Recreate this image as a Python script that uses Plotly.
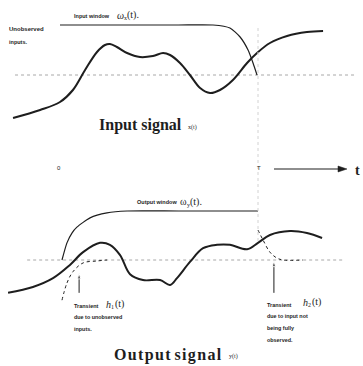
import plotly.graph_objects as go

# ---------------- data (time t in units of T, amplitude relative to the dotted baseline) -------------
input_t = [-0.231, -0.095, 0.005, 0.070, 0.131, 0.191, 0.231, 0.256, 0.291, 0.342, 0.407, 0.472,
           0.523, 0.558, 0.608, 0.658, 0.709, 0.759, 0.809, 0.874, 0.945, 0.995, 1.060, 1.146,
           1.246, 1.327]
input_x = [-0.86, -0.70, -0.54, -0.30, 0.10, 0.46, 0.60, 0.62, 0.56, 0.44, 0.36, 0.38,
           0.44, 0.40, 0.24, 0.00, -0.26, -0.36, -0.30, -0.10, 0.24, 0.44, 0.64, 0.78,
           0.86, 0.88]

win_x_t = [0.005, 0.30, 0.60, 0.774, 0.859, 0.910, 0.950, 0.975, 0.995]
win_x_v = [1.00, 1.00, 1.00, 1.00, 0.94, 0.76, 0.50, 0.24, 0.00]

output_t = [-0.256, -0.131, -0.030, 0.055, 0.121, 0.206, 0.256, 0.307, 0.357, 0.422, 0.508,
            0.558, 0.593, 0.658, 0.724, 0.794, 0.859, 0.945, 1.000, 1.060, 1.161, 1.246, 1.322]
output_y = [-0.67, -0.55, -0.37, -0.10, 0.16, 0.35, 0.31, 0.10, -0.29, -0.41, -0.41,
            -0.51, -0.37, -0.04, 0.24, 0.31, 0.31, 0.22, 0.35, 0.51, 0.59, 0.55, 0.45]

win_y_t = [0.015, 0.040, 0.065, 0.090, 0.156, 0.241, 0.342, 0.600, 1.000]
win_y_v = [0.00, 0.35, 0.55, 0.67, 0.86, 0.96, 1.00, 1.00, 1.00]

h1_t = [0.015, 0.040, 0.070, 0.121, 0.191, 0.241]
h1_v = [-0.82, -0.47, -0.24, -0.06, -0.02, 0.00]

h2_t = [1.000, 1.025, 1.060, 1.095, 1.126, 1.226]
h2_v = [0.61, 0.41, 0.16, 0.04, 0.00, 0.00]

baseline_in_t = [-0.221, 1.487]
baseline_out_t = [-0.160, 1.437]
arrow_h1 = (0.101, -0.67, -0.27)   # t, from, to
arrow_h2 = (1.080, -0.67, -0.02)

W, H = 363, 366
def px(x):
    return x / W
def py(y):
    return 1 - y / H

INK = "#1e1e1e"
GRID = "#a8a8a8"
SERIF = "Liberation Serif"
SANS = "Liberation Sans Narrow, Liberation Sans"

fig = go.Figure()

# input panel
fig.add_trace(go.Scatter(x=baseline_in_t, y=[0, 0], mode="lines", yaxis="y",
                         line=dict(color=GRID, width=1, dash="dot")))
fig.add_trace(go.Scatter(x=win_x_t, y=win_x_v, mode="lines", yaxis="y",
                         line=dict(color=INK, width=1.2, shape="spline", smoothing=0.6)))
fig.add_trace(go.Scatter(x=input_t, y=input_x, mode="lines", yaxis="y",
                         line=dict(color=INK, width=2, shape="spline", smoothing=1)))

# output panel
fig.add_trace(go.Scatter(x=baseline_out_t, y=[0, 0], mode="lines", yaxis="y2",
                         line=dict(color=GRID, width=1, dash="dot")))
fig.add_trace(go.Scatter(x=win_y_t, y=win_y_v, mode="lines", yaxis="y2",
                         line=dict(color=INK, width=1.2, shape="spline", smoothing=0.6)))
fig.add_trace(go.Scatter(x=output_t, y=output_y, mode="lines", yaxis="y2",
                         line=dict(color=INK, width=2, shape="spline", smoothing=1)))
fig.add_trace(go.Scatter(x=h1_t, y=h1_v, mode="lines", yaxis="y2",
                         line=dict(color=INK, width=1, dash="dot", shape="spline")))
fig.add_trace(go.Scatter(x=h2_t, y=h2_v, mode="lines", yaxis="y2",
                         line=dict(color=INK, width=1, dash="dot", shape="spline")))

# transient arrows
for (t, a0, a1) in (arrow_h1, arrow_h2):
    fig.add_trace(go.Scatter(x=[t, t], y=[a0, a1], mode="lines+markers", yaxis="y2",
                             line=dict(color=INK, width=1),
                             marker=dict(symbol="arrow", angleref="previous", size=[0, 6],
                                         color=INK)))

# vertical dotted line at T
fig.add_shape(type="line", xref="x", yref="paper", x0=1.0, x1=1.0, y0=py(28), y1=py(244),
              line=dict(color="#d2d2d2", width=1, dash="dot"))

# time axis arrow
fig.add_shape(type="line", xref="paper", yref="paper", x0=px(274), x1=px(340),
              y0=py(169), y1=py(169), line=dict(color=INK, width=1.2))
fig.add_shape(type="path", xref="paper", yref="paper",
              path=f"M {px(338)} {py(166)} L {px(347)} {py(169)} L {px(338)} {py(172)} Z",
              fillcolor=INK, line=dict(color=INK, width=0.5))

ann = []
def txt(x, y, s, size, family=SANS, anchor="left", color=INK):
    ann.append(dict(x=px(x), y=py(y), xref="paper", yref="paper", text=s, showarrow=False,
                    xanchor=anchor, yanchor="middle",
                    font=dict(family=family, size=size, color=color)))

def sym(x, y, base, sub, rest, italic=True, w=6.5):
    b = "<i>" + base + "</i>" if italic else base
    txt(x, y, b, 10, SERIF)
    txt(x + w, y + 3, sub, 6, SERIF)
    txt(x + w + 3.5, y, rest, 10, SERIF)

def spaced(s):
    return "\u200a".join(s)

txt(7, 29, "<b>Unobserved</b>", 6)
txt(7, 42, "<b>inputs.</b>", 5.5)
txt(72, 16, "<b>Input window</b>", 5.5)
sym(115, 15, "ω", "x", "(t).")
txt(97, 125, "<b>Input signal</b>", 16, SERIF)
txt(186, 127, "x(t)", 6, SERIF)

txt(59, 168, "0", 6, anchor="center")
txt(259, 168, "T", 6, anchor="center")
txt(353, 170, "<b>t</b>", 14, SERIF)

txt(135, 202, "<b>Output window</b>", 5.5)
sym(178, 202, "ω", "y", "(t).", italic=False)

txt(72, 306, "<b>Transient</b>", 5.5)
sym(104, 304, "h", "1", "(t)", w=5)
txt(72, 317, "<b>due to unobserved</b>", 5.4)
txt(72, 329, "<b>inputs.</b>", 5.4)

txt(265, 305, "<b>Transient</b>", 5.5)
sym(301, 302, "h", "2", "(t)", w=5)
txt(265, 316, "<b>due to input not</b>", 5.4)
txt(265, 328, "<b>being fully</b>", 5.4)
txt(265, 340, "<b>observed.</b>", 5.4)

txt(112, 355, "<b>" + spaced("Output") + " " + spaced("signal") + "</b>", 16, SERIF)
txt(227, 356, "y(t)", 6, SERIF)

fig.update_layout(
    width=W, height=H, margin=dict(l=0, r=0, t=0, b=0),
    paper_bgcolor="white", plot_bgcolor="white", showlegend=False,
    xaxis=dict(range=[-59 / 199, 304 / 199], visible=False, fixedrange=True),
    yaxis=dict(domain=[1 - 140 / H, 1], range=[-1.3, 1.5], visible=False),
    yaxis2=dict(domain=[0, 186 / H], range=[-106 / 49, 80 / 49], visible=False),
    annotations=ann,
)

fig.write_html("out.html")
